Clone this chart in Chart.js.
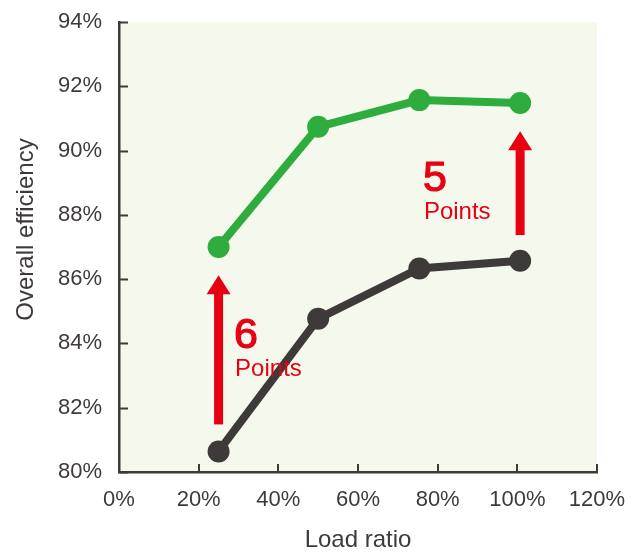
<!DOCTYPE html>
<html>
<head>
<meta charset="utf-8">
<script src="https://cdn.jsdelivr.net/npm/chart.js@4.4.1/dist/chart.umd.min.js"></script>
<style>
  html, body { margin: 0; padding: 0; background: #ffffff; }
  #wrap { width: 640px; height: 554px; }
</style>
</head>
<body>
<div id="wrap"><canvas id="chart" width="640" height="554"></canvas></div>
<script>
// Load ratio (%) at each measured operating point
const loadRatio = [25, 50, 75.4, 100.7];
// Overall efficiency (%) of the improved unit
const improvedEff = [87.0, 90.74, 91.57, 91.48];
// Overall efficiency (%) of the conventional unit
const conventionalEff = [80.64, 84.77, 86.33, 86.57];

// Efficiency gain arrows: load ratio, start and end efficiency, label
const gainX = [25, 100.7];
const gainFrom = [81.48, 87.37];
const gainTo = [86.12, 90.6];
const gainLabel = ['6', '5'];
const gainUnit = 'Points';
// Where each gain label sits (load ratio, efficiency of the number baseline)
const gainLabelX = [29.4, 76.8];
const gainLabelY = [83.85, 88.74];

const FONT = '"Liberation Sans", Arial, Helvetica, sans-serif';
const INK = '#3e3a39';
const GREEN = '#2eac3d';
const RED = '#e60012';

const plotBackground = {
  id: 'plotBackground',
  beforeDraw(chart) {
    const { ctx, chartArea: a } = chart;
    ctx.save();
    ctx.fillStyle = '#f5f8ec';
    ctx.fillRect(a.left, a.top, a.right - a.left, a.bottom - a.top);
    ctx.restore();
  }
};

// Tick marks pointing into the plot area
const innerTicks = {
  id: 'innerTicks',
  afterDraw(chart) {
    const { ctx, chartArea: a, scales } = chart;
    ctx.save();
    ctx.strokeStyle = INK;
    ctx.lineWidth = 2;
    scales.y.ticks.forEach(t => {
      const y = Math.round(scales.y.getPixelForValue(t.value)) + 0.5;
      ctx.beginPath();
      ctx.moveTo(a.left, y);
      ctx.lineTo(a.left + 9, y);
      ctx.stroke();
    });
    scales.x.ticks.forEach(t => {
      const x = Math.round(scales.x.getPixelForValue(t.value));
      ctx.beginPath();
      ctx.moveTo(x, a.bottom);
      ctx.lineTo(x, a.bottom - 8);
      ctx.stroke();
    });
    ctx.restore();
  }
};

// Axis titles
const axisTitles = {
  id: 'axisTitles',
  afterDraw(chart) {
    const { ctx, chartArea: a } = chart;
    ctx.save();
    ctx.fillStyle = INK;
    ctx.font = '24px ' + FONT;
    ctx.textAlign = 'center';
    ctx.textBaseline = 'middle';
    ctx.fillText('Load ratio', (a.left + a.right) / 2, 540);
    ctx.translate(26, 229.5);
    ctx.rotate(-Math.PI / 2);
    ctx.fillText('Overall efficiency', 0, 0);
    ctx.restore();
  }
};

// Red arrows with the efficiency gain labels
const gainArrows = {
  id: 'gainArrows',
  afterDatasetsDraw(chart) {
    const { ctx, scales: { x: sx, y: sy } } = chart;
    ctx.save();
    ctx.fillStyle = RED;
    ctx.strokeStyle = RED;
    gainX.forEach((gx, i) => {
      const x = sx.getPixelForValue(gx);
      const y0 = sy.getPixelForValue(gainFrom[i]);
      const y1 = sy.getPixelForValue(gainTo[i]);
      const headH = 19, headW = 24, shaft = 9;
      ctx.fillRect(x - shaft / 2, y1 + headH - 1, shaft, y0 - (y1 + headH - 1));
      ctx.beginPath();
      ctx.moveTo(x, y1);
      ctx.lineTo(x + headW / 2, y1 + headH);
      ctx.lineTo(x - headW / 2, y1 + headH);
      ctx.closePath();
      ctx.fill();

      const lx = sx.getPixelForValue(gainLabelX[i]);
      const ly = sy.getPixelForValue(gainLabelY[i]);
      ctx.textAlign = 'left';
      ctx.textBaseline = 'alphabetic';
      // medium-weight numeral: regular glyph with a thin outline
      ctx.font = '43px ' + FONT;
      ctx.lineWidth = 1.2;
      ctx.fillText(gainLabel[i], lx - 2, ly);
      ctx.strokeText(gainLabel[i], lx - 2, ly);
      ctx.font = '24px ' + FONT;
      ctx.fillText(gainUnit, lx - 1, ly + 28);
    });
    ctx.restore();
  }
};

const toPoints = (xs, ys) => xs.map((x, i) => ({ x, y: ys[i] }));

new Chart(document.getElementById('chart'), {
  type: 'scatter',
  data: {
    datasets: [
      {
        label: 'Conventional',
        data: toPoints(loadRatio, conventionalEff),
        showLine: true,
        borderColor: INK,
        backgroundColor: INK,
        borderWidth: 8,
        pointRadius: 11,
        pointBorderWidth: 0,
        pointHoverRadius: 11
      },
      {
        label: 'Improved',
        data: toPoints(loadRatio, improvedEff),
        showLine: true,
        borderColor: GREEN,
        backgroundColor: GREEN,
        borderWidth: 8,
        pointRadius: 11,
        pointBorderWidth: 0,
        pointHoverRadius: 11
      }
    ]
  },
  options: {
    responsive: false,
    animation: false,
    devicePixelRatio: 1,
    layout: { padding: { left: 0, top: 22, right: 43, bottom: 0 } },
    plugins: {
      legend: { display: false },
      tooltip: { enabled: false }
    },
    scales: {
      x: {
        type: 'linear',
        min: 0,
        max: 120,
        afterFit(scale) {
          scale.height = 82;
          scale.paddingLeft = 0;
          scale.paddingRight = 0;
        },
        ticks: {
          stepSize: 20,
          padding: 15,
          color: INK,
          font: { family: FONT, size: 22 },
          callback: v => v + '%'
        },
        grid: { display: true, drawOnChartArea: false, drawTicks: false },
        border: { display: true, color: INK, width: 2.5 }
      },
      y: {
        type: 'linear',
        min: 80,
        max: 94,
        afterFit(scale) {
          scale.width = 119;
          scale.paddingTop = 0;
          scale.paddingBottom = 0;
        },
        ticks: {
          stepSize: 2,
          padding: 17,
          color: INK,
          font: { family: FONT, size: 22 },
          callback: v => v + '%'
        },
        grid: { display: true, drawOnChartArea: false, drawTicks: false },
        border: { display: true, color: INK, width: 2.5 }
      }
    }
  },
  plugins: [plotBackground, innerTicks, axisTitles, gainArrows]
});
</script>
</body>
</html>
